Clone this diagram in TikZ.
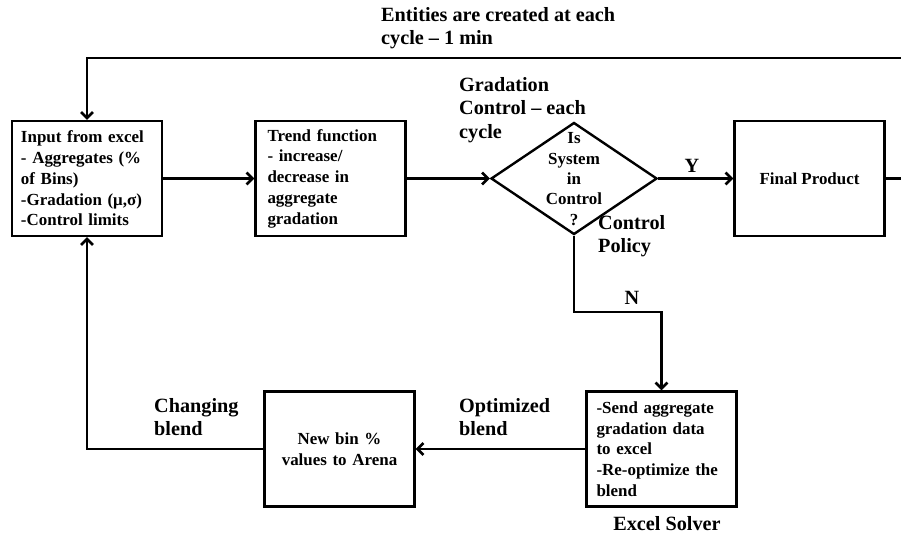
\documentclass[tikz,border=0pt]{standalone}
\usepackage{fontspec}
\setmainfont{Liberation Serif}
\usepackage{tikz}
\usetikzlibrary{positioning, arrows.meta, shapes.geometric}

\tikzset{
  blk/.style={draw, line width=2.4pt, minimum width=150bp, minimum height=115bp,
    inner sep=0pt, font=\bfseries\fontsize{17}{20.8}\selectfont},
  lbl/.style={font=\bfseries\fontsize{20.3}{23.5}\selectfont, align=left, inner sep=0pt},
  flow/.style={line width=2.6pt, -{Straight Barb[length=6pt,width=12pt]}}
}

\begin{document}
\begin{tikzpicture}[x=1bp, y=-1bp]
\useasboundingbox (0,0) rectangle (901,535);
\clip (0,0) rectangle (901,535);
% draw the boxes of the top row
\node[blk, text width=132bp, align=left] (input) at (87,178.5)
  {Input from excel\\- Aggregates (\%\\of Bins)\\-Gradation (μ,σ)\\-Control limits};
\node[blk, text width=126bp, align=left] (trend) at (330.5,178.5)
  {Trend function\\- increase/\\decrease in\\aggregate\\gradation};
\node[draw, diamond, line width=2.4pt, minimum width=166bp, minimum height=112bp,
  inner sep=0pt, aspect=1.48] (dec) at (574,178.5) {};
\node[align=center, inner sep=0pt, font=\bfseries\fontsize{17}{20.5}\selectfont] (dectxt) at (574,179)
  {Is\\System\\in\\Control\\?};
\node[blk, font=\bfseries\fontsize{17}{20}\selectfont] (final) at (809.5,178.5) {Final Product};
% draw the boxes of the bottom row
\node[blk, text width=130bp, align=left] (solver) at (661.5,449)
  {-Send aggregate\\gradation data\\to excel\\-Re-optimize the\\blend};
\node[blk, text width=140bp, align=center] (newbin) at (339.5,449)
  {\raisebox{-10bp}{\parbox{140bp}{\centering New bin \%\\values to Arena}}};

% draw the flow lines
\foreach \a/\b in {input/trend, trend/dec, dec/final}
  \draw[flow] (\a) -- (\b);
\coordinate (redge) at (910,178.5);
\coordinate (topline) at (87,58);
\draw[flow] (final.east) -- (redge) |- (topline) -- (input.north);
\coordinate (nbend) at (574,312);
\draw[flow] (dec.south) -- (nbend) -| (solver.north);
\draw[flow] (solver) -- (newbin);
\draw[flow] (newbin.west) -| (input.south);

% labels
\node[lbl, anchor=north west] (entities) at (381,7) {Entities are created at each\\cycle -- 1 min};
\node[lbl, anchor=north west] (gradctl) at (459,77) {Gradation\\Control -- each\\cycle};
\node[lbl] (yes) at (692,166) {Y};
\node[lbl, anchor=north west] (policy) at (598,215) {Control\\Policy};
\node[lbl] (no) at (632,298) {N};
\node[lbl, anchor=north west] (optim) at (459,398) {Optimized\\blend};
\node[lbl, anchor=north west] (changing) at (154,398) {Changing\\blend};
\node[lbl] (exsolver) at (667,524) {Excel Solver};
\end{tikzpicture}
\end{document}
